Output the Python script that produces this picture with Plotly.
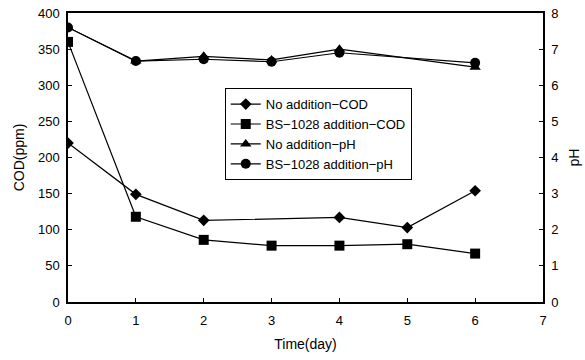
import plotly.graph_objects as go

days = [0, 1, 2, 3, 4, 5, 6]
cod_no = [220, 149, 113, None, 117, 103, 154]
cod_bs = [360, 118, 86, 78, 78, 80, 67]
ph_no = [7.6, 6.67, 6.8, 6.7, 7.0, None, 6.5]
ph_bs = [7.6, 6.67, 6.72, 6.65, 6.9, None, 6.62]

font = dict(family="Liberation Sans, Arial, sans-serif", size=13, color="black")

fig = go.Figure()
fig.add_trace(go.Scatter(x=days, y=cod_no, name="No addition\u2212COD", mode="lines+markers",
                         connectgaps=True,
                         line=dict(color="black", width=1.2),
                         marker=dict(symbol="diamond", size=9, color="black")))
fig.add_trace(go.Scatter(x=days, y=cod_bs, name="BS\u22121028 addition\u2212COD", mode="lines+markers",
                         line=dict(color="black", width=1.2),
                         marker=dict(symbol="square", size=10, color="black")))
fig.add_trace(go.Scatter(x=days, y=ph_no, name="No addition\u2212pH", mode="lines+markers",
                         connectgaps=True, yaxis="y2",
                         line=dict(color="black", width=1.2),
                         marker=dict(symbol="triangle-up", size=10, color="black")))
fig.add_trace(go.Scatter(x=days, y=ph_bs, name="BS\u22121028 addition\u2212pH", mode="lines+markers",
                         connectgaps=True, yaxis="y2",
                         line=dict(color="black", width=1.2),
                         marker=dict(symbol="circle", size=10, color="black")))

fig.update_layout(
    width=585, height=360,
    margin=dict(l=68, r=42, t=13, b=58),
    paper_bgcolor="white", plot_bgcolor="white",
    font=font,
    showlegend=True,
    legend=dict(x=0.33, y=0.74, xanchor="left", yanchor="top",
                bordercolor="black", borderwidth=1, bgcolor="white",
                font=dict(size=13), tracegroupgap=0, itemwidth=30),
    xaxis=dict(range=[0, 7], dtick=1, showgrid=False, zeroline=False, automargin=False,
               showline=True, linecolor="black", linewidth=1.5, mirror=True,
               ticks="inside", ticklen=4, tickcolor="black", ticklabelstandoff=6,
               title=dict(text="Time(day)", font=dict(size=14), standoff=12)),
    yaxis=dict(range=[0, 400], dtick=50, showgrid=False, zeroline=False, automargin=False,
               showline=True, linecolor="black", linewidth=1.5,
               ticks="inside", ticklen=4, tickcolor="black", ticklabelstandoff=4,
               title=dict(text="COD(ppm)", font=dict(size=14), standoff=10)),
    yaxis2=dict(range=[0, 8], dtick=1, overlaying="y", side="right", automargin=False,
                showgrid=False, zeroline=False,
                showline=True, linecolor="black", linewidth=1.5,
                ticks="inside", ticklen=4, tickcolor="black", ticklabelstandoff=4,
                title=dict(text="pH", font=dict(size=14), standoff=12)),
)

fig.write_html("out.html")
